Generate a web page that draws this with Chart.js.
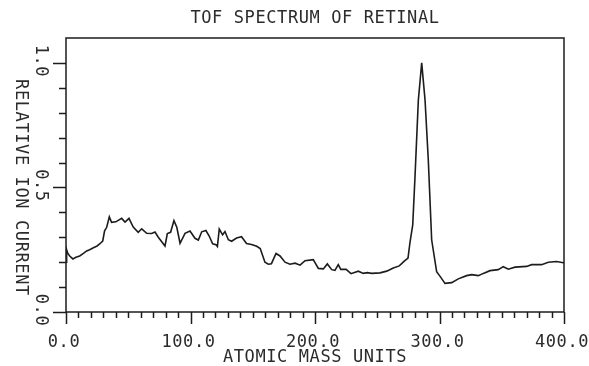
<!DOCTYPE html>
<html>
<head>
<meta charset="utf-8">
<title>TOF Spectrum of Retinal</title>
<script src="https://cdn.jsdelivr.net/npm/chart.js@4/dist/chart.umd.min.js"></script>
<style>
    html, body { margin: 0; padding: 0; background: #ffffff; }
    #chart { display: block; }
</style>
</head>
<body>
<canvas id="chart" width="589" height="366"></canvas>
<script>
// Spectrum data (mass in amu, relative ion current)
const massValues = [
    0, 0.5, 1.5, 3, 5.5, 8, 11, 14, 16.6, 19, 22, 25, 27, 29.5, 31, 32.7, 34.8, 36.6, 40,
    44.7, 47.4, 50.6, 54, 58, 60.8, 64.8, 68.8, 71.5, 74, 79.5, 81.4, 84, 86.7, 89, 91.6,
    95.6, 99.6, 103.6, 106.3, 109, 112.4, 115, 117.8, 120.5, 121.6, 123.1, 125.8, 127.7,
    130.4, 133, 137, 141, 145, 149, 153.2, 156, 159.8, 162.5, 165, 168.7, 171.9, 175.9,
    179.9, 184, 188, 192, 198.6, 202.7, 206.7, 209.9, 213.4, 216, 218.7, 220.7, 225,
    228.9, 234.8, 238.8, 242, 245.5, 252.2, 257.6, 262.9, 267.7, 271.5, 274.7, 276.3,
    278.5, 280.3, 283, 285.7, 288.4, 291, 293.7, 297.7, 300.9, 304.4, 309.8, 315.1,
    321.8, 325.8, 331.2, 335.2, 340.6, 347.2, 351.2, 355.3, 360.6, 370, 374, 382, 387.4,
    394, 399.4, 400
];
const ionCurrent = [
    0.20, 0.25, 0.235, 0.225, 0.213, 0.22, 0.225, 0.235, 0.245, 0.25, 0.258, 0.265, 0.273,
    0.285, 0.326, 0.34, 0.382, 0.36, 0.362, 0.376, 0.361, 0.376, 0.341, 0.32, 0.334, 0.316,
    0.315, 0.321, 0.301, 0.265, 0.315, 0.32, 0.367, 0.34, 0.276, 0.316, 0.325, 0.296, 0.289,
    0.322, 0.327, 0.305, 0.274, 0.27, 0.263, 0.333, 0.31, 0.323, 0.29, 0.284, 0.297, 0.302,
    0.275, 0.271, 0.264, 0.255, 0.2, 0.192, 0.194, 0.235, 0.225, 0.2, 0.192, 0.196, 0.188,
    0.206, 0.21, 0.175, 0.173, 0.193, 0.17, 0.167, 0.19, 0.171, 0.171, 0.154, 0.164, 0.155,
    0.158, 0.155, 0.157, 0.164, 0.177, 0.185, 0.203, 0.216, 0.28, 0.35, 0.54, 0.85, 1.0,
    0.85, 0.61, 0.29, 0.162, 0.14, 0.115, 0.118, 0.133, 0.146, 0.15, 0.146, 0.155, 0.166,
    0.17, 0.182, 0.172, 0.18, 0.183, 0.19, 0.19, 0.2, 0.203, 0.198, 0.198
];

// Axis ticks and labels
const xMinorTicks = [];
for (let m = 0; m <= 400; m += 10) xMinorTicks.push(m);
const xMajorTicks = [0, 100, 200, 300, 400];
const xTickLabels = ['0.0', '100.0', '200.0', '300.0', '400.0'];
const yMinorTicks = [0, 0.1, 0.2, 0.3, 0.4, 0.5, 0.6, 0.7, 0.8, 0.9, 1.0];
const yMajorTicks = [0, 0.5, 1.0];
const yTickLabels = ['0.0', '0.5', '1.0'];

const titleText = 'TOF SPECTRUM OF RETINAL';
const xTitleText = 'ATOMIC MASS UNITS';
const yTitleText = 'RELATIVE ION CURRENT';

const inkColor = '#1c1c1c';
const textColor = '#2b2b2b';
const plotFont = '17px "DejaVu Sans Mono", "Liberation Mono", monospace';

// Draw text with a bit of extra spacing, like the plotter lettering
function plotText(ctx, text, x, y) {
    if ('letterSpacing' in ctx) ctx.letterSpacing = '0.6px';
    ctx.fillText(text, x, y);
}

// Plotter style frame, ticks and text drawn on top of the chart
const plotterFrame = {
    id: 'plotterFrame',
    afterDraw(chart) {
        const ctx = chart.ctx;
        const area = chart.chartArea;
        const xScale = chart.scales.x;
        const yScale = chart.scales.y;

        ctx.save();
        ctx.strokeStyle = inkColor;
        ctx.lineWidth = 1.5;

        // Box round the plot
        ctx.strokeRect(area.left, area.top, area.right - area.left, area.bottom - area.top);

        // X ticks hang below the axis
        ctx.beginPath();
        xMinorTicks.forEach(m => {
            const px = Math.round(xScale.getPixelForValue(m)) + 0.5;
            const len = xMajorTicks.includes(m) ? 12 : 6;
            ctx.moveTo(px, area.bottom);
            ctx.lineTo(px, area.bottom + len);
        });
        // Y ticks point out to the left
        yMinorTicks.forEach(v => {
            const py = Math.round(yScale.getPixelForValue(v)) + 0.5;
            const len = yMajorTicks.some(t => Math.abs(t - v) < 1e-9) ? 13 : 7;
            ctx.moveTo(area.left, py);
            ctx.lineTo(area.left - len, py);
        });
        ctx.stroke();

        ctx.fillStyle = textColor;
        ctx.font = plotFont;
        ctx.textAlign = 'center';
        ctx.textBaseline = 'middle';

        // Title
        plotText(ctx, titleText, (area.left + area.right) / 2, 19);

        // X tick labels and axis title
        xMajorTicks.forEach((m, i) => {
            plotText(ctx, xTickLabels[i], xScale.getPixelForValue(m) - 2, area.bottom + 31);
        });
        plotText(ctx, xTitleText, (area.left + area.right) / 2, area.bottom + 46);

        // Y tick labels, turned a quarter clockwise
        yMajorTicks.forEach((v, i) => {
            ctx.save();
            ctx.translate(40, yScale.getPixelForValue(v) - 2);
            ctx.rotate(Math.PI / 2);
            plotText(ctx, yTickLabels[i], 0, 0);
            ctx.restore();
        });

        // Y axis title, also turned clockwise
        ctx.save();
        ctx.translate(20, yScale.getPixelForValue(0.5));
        ctx.rotate(Math.PI / 2);
        plotText(ctx, yTitleText, 0, 0);
        ctx.restore();

        ctx.restore();
    }
};

// Initialize chart
const spectrumCtx = document.getElementById('chart').getContext('2d');
const spectrumChart = new Chart(spectrumCtx, {
    type: 'line',
    data: {
        datasets: [{
            label: 'Relative ion current',
            data: massValues.map((m, i) => ({ x: m, y: ionCurrent[i] })),
            borderColor: inkColor,
            borderWidth: 1.6,
            pointRadius: 0,
            tension: 0,
            fill: false
        }]
    },
    options: {
        responsive: false,
        animation: false,
        layout: {
            padding: { left: 0, right: 25, top: 38, bottom: 0 }
        },
        plugins: {
            legend: { display: false },
            tooltip: { enabled: false },
            title: { display: false }
        },
        scales: {
            x: {
                type: 'linear',
                min: 0,
                max: 400,
                grid: { display: false },
                border: { display: false },
                ticks: { display: false },
                afterFit: scale => { scale.height = 54; scale.paddingLeft = 0; scale.paddingRight = 0; }
            },
            y: {
                min: 0,
                max: 1.1,
                grid: { display: false },
                border: { display: false },
                ticks: { display: false },
                afterFit: scale => { scale.width = 66; }
            }
        }
    },
    plugins: [plotterFrame]
});
</script>
</body>
</html>
